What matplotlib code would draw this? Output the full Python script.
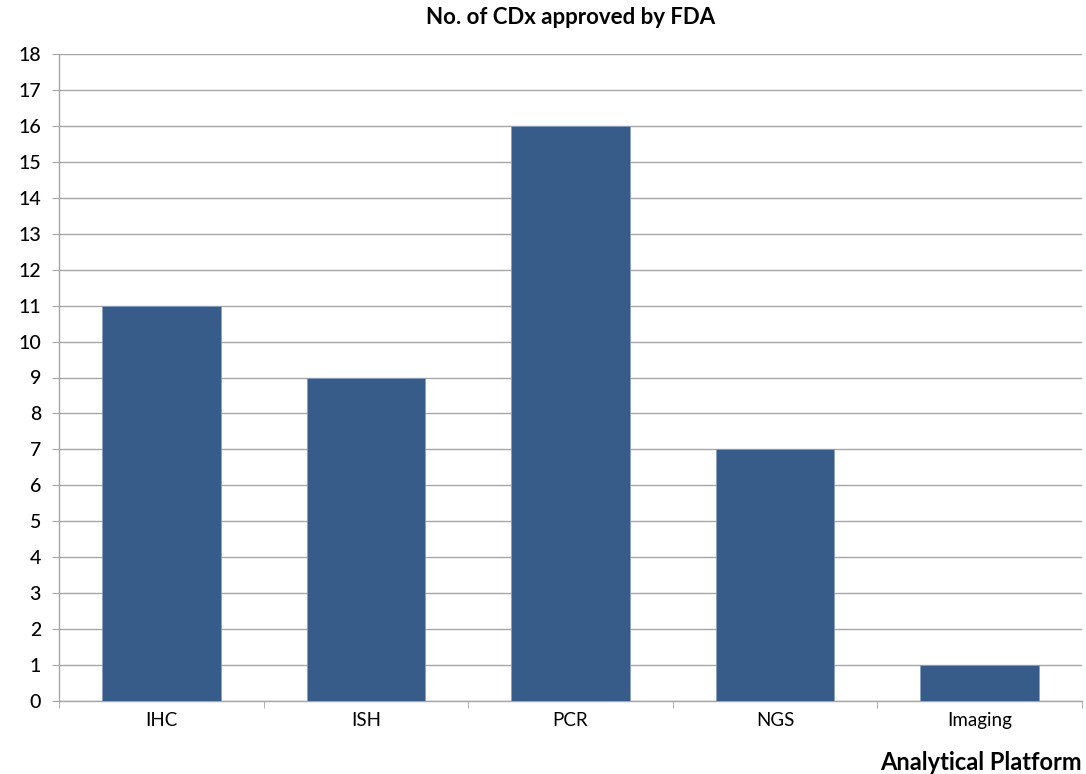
import matplotlib
matplotlib.use("Agg")
import matplotlib.pyplot as plt
import numpy as np

categories = ["IHC", "ISH", "PCR", "NGS", "Imaging"]
values = [11, 9, 16, 7, 1]
yticks = list(range(0, 19))

plt.rcParams['font.family'] = ['Lato', 'DejaVu Sans']

fig = plt.figure(figsize=(10.86, 7.74), dpi=100)
ax = fig.add_axes([59/1086, 1-701/774, (1082-59)/1086, (701-54)/774])

x = np.arange(len(categories))
ax.bar(x, values, width=0.58, color="#375c8a", edgecolor="#8aa0bd", linewidth=0.6, zorder=3)

ax.set_xlim(-0.5, len(categories)-0.5)
ax.set_ylim(0, 18)
ax.set_yticks(yticks)
ax.set_yticklabels([str(t) for t in yticks], fontsize=14, fontweight='medium')
ax.yaxis.grid(True, color="#a6a6a6", linewidth=1.0, zorder=0)
ax.set_axisbelow(True)

ax.set_xticks(x)
ax.set_xticklabels(categories, fontsize=13.5)
ax.tick_params(axis='x', length=0, pad=8)
ax.set_xticks(np.arange(-0.5, len(categories), 1.0), minor=True)
ax.tick_params(axis='x', which='minor', length=5, color="#a6a6a6", direction='out')
ax.tick_params(axis='y', length=5, color="#a6a6a6", direction='out', pad=8)

for s in ['top', 'right']:
    ax.spines[s].set_visible(False)
for s in ['left', 'bottom']:
    ax.spines[s].set_color("#a6a6a6")
    ax.spines[s].set_linewidth(1.0)

fig.text(571/1086, 1-18/774, "No. of CDx approved by FDA", ha='center', va='center',
         fontsize=16, fontweight='bold')
fig.text(1082/1086, 1-762/774, "Analytical Platform", ha='right', va='center',
         fontsize=17, fontweight='bold')

fig.savefig("out.png", dpi=100)
